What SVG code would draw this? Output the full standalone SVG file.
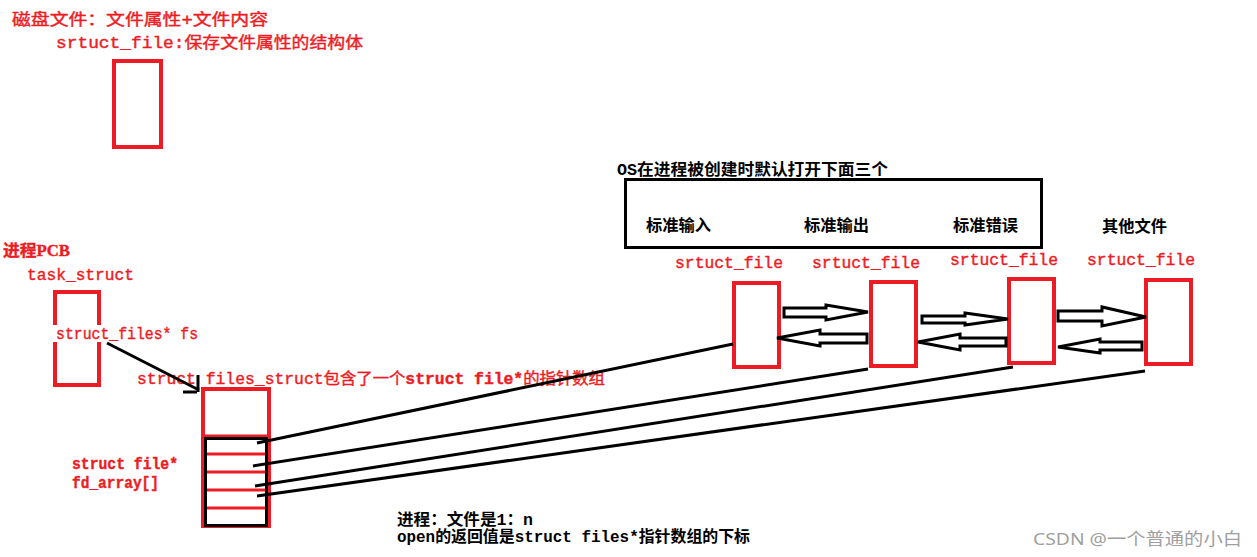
<svg xmlns="http://www.w3.org/2000/svg" width="1257" height="557" viewBox="0 0 1257 557">
<style>
.red{fill:#ED1C24;stroke:#ED1C24;stroke-width:0.4;font-family:"Liberation Mono","Noto Sans CJK SC",monospace;font-size:16px}
.blk{fill:#000;font-family:"Liberation Mono","Noto Sans CJK SC",monospace;font-size:16px;font-weight:bold}
.box{fill:none;stroke:#ED1C24;stroke-width:4}
.ln{fill:none;stroke:#000;stroke-width:3;stroke-linecap:butt}
.harrow{fill:none;stroke:#000;stroke-width:3;stroke-linejoin:miter}
</style>
<rect width="1257" height="557" fill="#fff"/>

<g id="disk-file">
  <text class="red" x="12" y="25" font-size="17" textLength="256" lengthAdjust="spacingAndGlyphs">磁盘文件：文件属性+文件内容</text>
  <text class="red" x="56" y="48" textLength="307" lengthAdjust="spacingAndGlyphs">srtuct_file:保存文件属性的结构体</text>
  <rect class="box" x="114" y="61" width="47" height="86"/>
</g>

<g id="pcb">
  <text class="red" x="3" y="256" font-weight="bold" textLength="67" lengthAdjust="spacingAndGlyphs">进程<tspan font-family="Liberation Serif, serif">PCB</tspan></text>
  <text class="red" x="27" y="280" textLength="107" lengthAdjust="spacingAndGlyphs">task_struct</text>
  <rect class="box" x="55" y="292" width="44" height="93"/>
  <rect x="50" y="325" width="56" height="17" fill="#fff"/>
  <text class="red" x="56" y="339" textLength="142" lengthAdjust="spacingAndGlyphs">struct_files* fs</text>
</g>

<g id="files-struct">
  <text class="red" x="137" y="384" textLength="468" lengthAdjust="spacingAndGlyphs">struct files_struct包含了一个<tspan font-weight="bold">struct file*</tspan>的指针数组</text>
  <rect class="box" x="203" y="389" width="66" height="137"/>
  <line x1="203" y1="436" x2="269" y2="436" stroke="#ED1C24" stroke-width="3"/>
  <rect x="205.5" y="438.5" width="61" height="87" fill="none" stroke="#000" stroke-width="3"/>
  <g stroke="#ED1C24" stroke-width="3">
    <line x1="207" y1="454" x2="265" y2="454"/>
    <line x1="207" y1="472" x2="265" y2="472"/>
    <line x1="207" y1="490" x2="265" y2="490"/>
    <line x1="207" y1="508" x2="265" y2="508"/>
  </g>
  <text class="red" x="72" y="469" font-weight="bold" textLength="106" lengthAdjust="spacingAndGlyphs">struct file*</text>
  <text class="red" x="72" y="488" font-weight="bold" textLength="87" lengthAdjust="spacingAndGlyphs">fd_array[]</text>
</g>

<g id="os-defaults">
  <text class="blk" x="617" y="175" textLength="271" lengthAdjust="spacingAndGlyphs">OS在进程被创建时默认打开下面三个</text>
  <rect x="625.5" y="179.5" width="416" height="68" fill="none" stroke="#000" stroke-width="3"/>
  <text class="blk" x="646" y="231" textLength="65" lengthAdjust="spacingAndGlyphs">标准输入</text>
  <text class="blk" x="804" y="231" textLength="65" lengthAdjust="spacingAndGlyphs">标准输出</text>
  <text class="blk" x="953" y="231" textLength="65" lengthAdjust="spacingAndGlyphs">标准错误</text>
</g>
<g id="other-label">
  <text class="blk" x="1102" y="232" textLength="65" lengthAdjust="spacingAndGlyphs">其他文件</text>
</g>

<g id="file1">
  <text class="red" x="675" y="268" textLength="108" lengthAdjust="spacingAndGlyphs">srtuct_file</text>
  <rect class="box" x="734" y="283" width="45" height="84"/>
</g>
<g id="file2">
  <text class="red" x="812" y="268" textLength="108" lengthAdjust="spacingAndGlyphs">srtuct_file</text>
  <rect class="box" x="871" y="282" width="45" height="84"/>
</g>
<g id="file3">
  <text class="red" x="950" y="265" textLength="108" lengthAdjust="spacingAndGlyphs">srtuct_file</text>
  <rect class="box" x="1009" y="279" width="45" height="84"/>
</g>
<g id="file4">
  <text class="red" x="1087" y="265" textLength="108" lengthAdjust="spacingAndGlyphs">srtuct_file</text>
  <rect class="box" x="1146" y="280" width="45" height="84"/>
</g>

<g id="connectors">
  <line class="ln" x1="107" y1="343" x2="199" y2="390"/>
  <line class="ln" x1="198" y1="375" x2="198" y2="392"/>
  <line class="ln" x1="183" y1="392" x2="197" y2="392"/>

  <line class="ln" x1="257" y1="443" x2="733" y2="344"/>
  <line class="ln" x1="253" y1="466" x2="868" y2="369"/>
  <line class="ln" x1="255" y1="486" x2="1013" y2="367"/>
  <line class="ln" x1="257" y1="496" x2="1145" y2="371"/>

  <path class="harrow" d="M784,308 L826,308 L826,305 L868,312 L826,320 L826,317 L784,317 Z"/>
  <path class="harrow" d="M777,338 L820,330 L820,334 L867,334 L867,343 L820,343 L820,346 Z"/>
  <path class="harrow" d="M922,316 L965,316 L965,313 L1008,319 L965,325 L965,323 L922,323 Z"/>
  <path class="harrow" d="M918,342 L960,334 L960,338 L1006,338 L1006,346 L960,346 L960,350 Z"/>
  <path class="harrow" d="M1058,311 L1102,311 L1102,307 L1146,317 L1102,326 L1102,321 L1058,321 Z"/>
  <path class="harrow" d="M1058,347 L1100,339 L1100,342 L1142,342 L1142,350 L1100,350 L1100,353 Z"/>
</g>

<g id="notes">
  <text class="blk" x="397" y="525" textLength="136" lengthAdjust="spacingAndGlyphs">进程：文件是1：n</text>
  <text class="blk" x="397" y="542" textLength="353" lengthAdjust="spacingAndGlyphs">open的返回值是struct files*指针数组的下标</text>
</g>

<g id="watermark">
  <text x="1033" y="545" fill="#a0a0a0" font-family="'Noto Sans','Noto Sans CJK SC',sans-serif" font-size="17" textLength="209" lengthAdjust="spacingAndGlyphs">CSDN @一个普通的小白</text>
</g>
</svg>
